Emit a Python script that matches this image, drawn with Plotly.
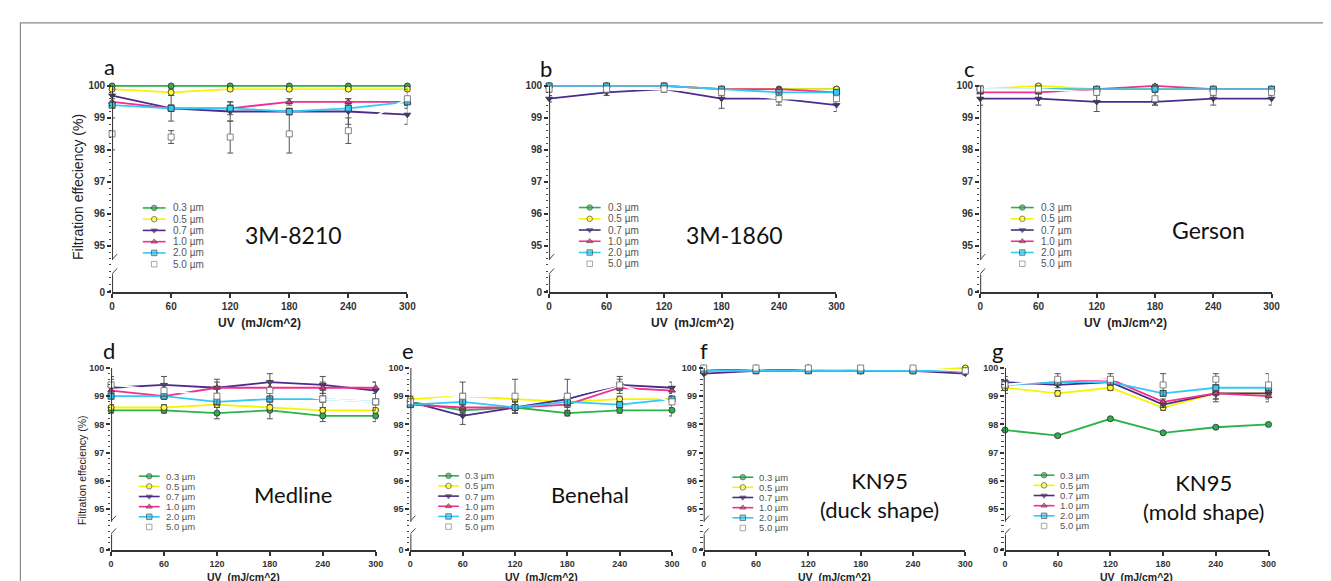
import plotly.graph_objects as go

W, H = 1331, 581

# ---------------- data ----------------
uv = [0, 60, 120, 180, 240, 300]
sizes = ["0.3 µm", "0.5 µm", "0.7 µm", "1.0 µm", "2.0 µm", "5.0 µm"]
panel_letters = ["a", "b", "c", "d", "e", "f", "g"]
mask_names = ["3M-8210", "3M-1860", "Gerson", "Medline", "Benehal",
              "KN95<br>(duck shape)", "KN95<br>(mold shape)"]
y_ticks = [95, 96, 97, 98, 99, 100]

eff_3m8210 = {
    "0.3 µm": [100.0, 100.0, 100.0, 100.0, 100.0, 100.0],
    "0.5 µm": [99.9, 99.8, 99.9, 99.9, 99.9, 99.9],
    "0.7 µm": [99.7, 99.3, 99.2, 99.2, 99.2, 99.1],
    "1.0 µm": [99.5, 99.3, 99.3, 99.5, 99.5, 99.5],
    "2.0 µm": [99.4, 99.3, 99.3, 99.2, 99.3, 99.5],
    "5.0 µm": [98.5, 98.4, 98.4, 98.5, 98.6, 99.6],
}
err_3m8210 = {
    "0.3 µm": [0.0, 0.0, 0.0, 0.0, 0.0, 0.0],
    "0.5 µm": [0.05, 0.1, 0.05, 0.05, 0.05, 0.05],
    "0.7 µm": [0.2, 0.4, 0.3, 0.1, 0.4, 0.3],
    "1.0 µm": [0.1, 0.1, 0.2, 0.1, 0.1, 0.1],
    "2.0 µm": [0.1, 0.1, 0.1, 0.1, 0.1, 0.1],
    "5.0 µm": [0.5, 0.2, 0.5, 0.6, 0.4, 0.3],
}
eff_3m1860 = {
    "0.3 µm": [100.0, 100.0, 100.0, 99.9, 99.9, 99.9],
    "0.5 µm": [100.0, 100.0, 100.0, 99.9, 99.9, 99.9],
    "0.7 µm": [99.6, 99.8, 99.9, 99.6, 99.6, 99.4],
    "1.0 µm": [100.0, 100.0, 100.0, 99.9, 99.9, 99.8],
    "2.0 µm": [100.0, 100.0, 100.0, 99.9, 99.8, 99.8],
    "5.0 µm": [99.9, 99.9, 99.9, 99.8, 99.6, 99.6],
}
err_3m1860 = {
    "0.3 µm": [0.05, 0.05, 0.05, 0.05, 0.05, 0.05],
    "0.5 µm": [0.05, 0.05, 0.05, 0.05, 0.05, 0.05],
    "0.7 µm": [0.1, 0.1, 0.05, 0.3, 0.1, 0.2],
    "1.0 µm": [0.05, 0.05, 0.05, 0.05, 0.05, 0.05],
    "2.0 µm": [0.05, 0.05, 0.05, 0.05, 0.05, 0.05],
    "5.0 µm": [0.1, 0.1, 0.1, 0.1, 0.2, 0.1],
}
eff_gerson = {
    "0.3 µm": [99.9, 99.9, 99.9, 99.9, 99.9, 99.9],
    "0.5 µm": [99.9, 100.0, 99.9, 99.9, 99.9, 99.9],
    "0.7 µm": [99.6, 99.6, 99.5, 99.5, 99.6, 99.6],
    "1.0 µm": [99.8, 99.8, 99.9, 100.0, 99.9, 99.9],
    "2.0 µm": [99.9, 99.9, 99.9, 99.9, 99.9, 99.9],
    "5.0 µm": [99.9, 99.9, 99.8, 99.6, 99.8, 99.8],
}
err_gerson = {
    "0.3 µm": [0.05, 0.05, 0.05, 0.05, 0.05, 0.05],
    "0.5 µm": [0.05, 0.05, 0.05, 0.05, 0.05, 0.05],
    "0.7 µm": [0.2, 0.2, 0.3, 0.1, 0.2, 0.2],
    "1.0 µm": [0.05, 0.05, 0.05, 0.05, 0.05, 0.05],
    "2.0 µm": [0.05, 0.05, 0.05, 0.05, 0.05, 0.05],
    "5.0 µm": [0.1, 0.1, 0.1, 0.2, 0.1, 0.1],
}
eff_medline = {
    "0.3 µm": [98.5, 98.5, 98.4, 98.5, 98.3, 98.3],
    "0.5 µm": [98.6, 98.6, 98.7, 98.6, 98.5, 98.5],
    "0.7 µm": [99.3, 99.4, 99.3, 99.5, 99.4, 99.2],
    "1.0 µm": [99.2, 99.0, 99.3, 99.3, 99.3, 99.3],
    "2.0 µm": [99.0, 99.0, 98.8, 98.9, 98.9, 98.8],
    "5.0 µm": [99.4, 99.2, 99.0, 99.2, 98.9, 98.8],
}
err_medline = {
    "0.3 µm": [0.1, 0.1, 0.2, 0.3, 0.2, 0.2],
    "0.5 µm": [0.1, 0.1, 0.1, 0.1, 0.1, 0.1],
    "0.7 µm": [0.3, 0.3, 0.3, 0.3, 0.3, 0.3],
    "1.0 µm": [0.2, 0.1, 0.2, 0.2, 0.2, 0.2],
    "2.0 µm": [0.1, 0.1, 0.1, 0.1, 0.1, 0.1],
    "5.0 µm": [0.3, 0.2, 0.3, 0.3, 0.3, 0.3],
}
eff_benehal = {
    "0.3 µm": [98.8, 98.5, 98.6, 98.4, 98.5, 98.5],
    "0.5 µm": [98.9, 99.0, 98.9, 98.8, 98.9, 98.9],
    "0.7 µm": [98.8, 98.3, 98.6, 98.9, 99.4, 99.3],
    "1.0 µm": [98.7, 98.6, 98.6, 98.7, 99.3, 99.2],
    "2.0 µm": [98.7, 98.8, 98.6, 98.8, 98.7, 98.9],
    "5.0 µm": [98.8, 99.0, 99.0, 99.0, 99.4, 98.8],
}
err_benehal = {
    "0.3 µm": [0.1, 0.1, 0.2, 0.1, 0.1, 0.2],
    "0.5 µm": [0.1, 0.1, 0.1, 0.1, 0.1, 0.1],
    "0.7 µm": [0.1, 0.3, 0.2, 0.2, 0.2, 0.2],
    "1.0 µm": [0.1, 0.1, 0.1, 0.1, 0.1, 0.1],
    "2.0 µm": [0.1, 0.1, 0.1, 0.1, 0.1, 0.1],
    "5.0 µm": [0.1, 0.5, 0.6, 0.6, 0.3, 0.2],
}
eff_kn95_duck = {
    "0.3 µm": [100.0, 99.9, 100.0, 99.9, 99.9, 99.9],
    "0.5 µm": [99.9, 100.0, 100.0, 99.9, 99.9, 100.0],
    "0.7 µm": [99.8, 99.9, 99.9, 99.9, 99.9, 99.8],
    "1.0 µm": [99.9, 100.0, 99.9, 99.9, 99.9, 99.9],
    "2.0 µm": [99.9, 99.9, 99.9, 99.9, 99.9, 99.9],
    "5.0 µm": [100.0, 100.0, 100.0, 100.0, 100.0, 99.9],
}
err_kn95_duck = {
    "0.3 µm": [0.05, 0.05, 0.05, 0.05, 0.05, 0.05],
    "0.5 µm": [0.05, 0.05, 0.05, 0.05, 0.05, 0.05],
    "0.7 µm": [0.05, 0.05, 0.05, 0.05, 0.05, 0.05],
    "1.0 µm": [0.05, 0.05, 0.05, 0.05, 0.05, 0.05],
    "2.0 µm": [0.05, 0.05, 0.05, 0.05, 0.05, 0.05],
    "5.0 µm": [0.05, 0.05, 0.05, 0.05, 0.05, 0.05],
}
eff_kn95_mold = {
    "0.3 µm": [97.8, 97.6, 98.2, 97.7, 97.9, 98.0],
    "0.5 µm": [99.3, 99.1, 99.3, 98.6, 99.1, 99.1],
    "0.7 µm": [99.5, 99.4, 99.5, 98.7, 99.1, 99.1],
    "1.0 µm": [99.4, 99.5, 99.6, 98.8, 99.1, 99.0],
    "2.0 µm": [99.4, 99.5, 99.5, 99.1, 99.3, 99.3],
    "5.0 µm": [99.4, 99.6, 99.6, 99.4, 99.6, 99.4],
}
err_kn95_mold = {
    "0.3 µm": [0.05, 0.05, 0.05, 0.05, 0.05, 0.05],
    "0.5 µm": [0.1, 0.1, 0.1, 0.1, 0.2, 0.1],
    "0.7 µm": [0.1, 0.1, 0.1, 0.1, 0.3, 0.2],
    "1.0 µm": [0.1, 0.1, 0.1, 0.1, 0.2, 0.2],
    "2.0 µm": [0.1, 0.1, 0.1, 0.1, 0.1, 0.1],
    "5.0 µm": [0.3, 0.2, 0.2, 0.4, 0.2, 0.4],
}

panels_eff = [eff_3m8210, eff_3m1860, eff_gerson, eff_medline, eff_benehal,
              eff_kn95_duck, eff_kn95_mold]
panels_err = [err_3m8210, err_3m1860, err_gerson, err_medline, err_benehal,
              err_kn95_duck, err_kn95_mold]

# ---------------- style ----------------
series_style = {
    "0.3 µm": dict(line="#2bb24c", fill="#2bb24c", symbol="circle"),
    "0.5 µm": dict(line="#f5f500", fill="#ffff33", symbol="circle"),
    "0.7 µm": dict(line="#4b2c8c", fill="#4b2c8c", symbol="triangle-down"),
    "1.0 µm": dict(line="#f0308c", fill="#f0308c", symbol="triangle-up"),
    "2.0 µm": dict(line="#33c8f5", fill="#33c8f5", symbol="square"),
    "5.0 µm": dict(line="#ffffff", fill="#ffffff", symbol="square"),
}

# pixel geometry: (x of UV=0, x of UV=300, row)
geom = [(102, 400, 0), (543, 833, 0), (978, 1272, 0),
        (101, 368, 1), (403, 667, 1), (699, 963, 1), (1003, 1269, 1)]
rows = {0: dict(y100=77, unit=32.4, tick=10, leg=10, legsp=11.4, xt=317, xts=12),
        1: dict(y100=363, unit=28.6, tick=9, leg=9.5, legsp=10.3, xt=575, xts=10.5)}
YMIN, YMAX = 93.55, 100.1
BRK_HI, BRK_LO = 94.55, 94.1

letter_pos = [(99, 57), (540, 59), (967, 59), (99, 345), (401, 345), (699, 345), (995, 345)]
name_pos = [(285, 228, 23), (730, 228, 23), (1208, 223, 23), (285, 491, 22),
            (584, 491, 22), (876, 492, 22), (1203, 494, 22)]
# legend: (line x0, line x1, text x, first row y)
legend_pos = [(133, 156, 161, 200.7), (573, 595, 600, 200.3), (1009, 1032, 1037, 200.3),
              (129, 150, 154, 472.7), (431, 452, 456, 472.3), (728, 749, 753, 473.7),
              (1032, 1053, 1057, 471.7)]


def px(x):
    return x / W


def py(y):
    return 1 - y / H


fig = go.Figure()
layout = dict(width=W, height=H, margin=dict(l=0, r=0, t=0, b=0),
              paper_bgcolor="white", plot_bgcolor="rgba(0,0,0,0)",
              showlegend=False, hovermode=False)
shapes, annotations = [], []

for i, (eff, err) in enumerate(zip(panels_eff, panels_err)):
    n = i + 1
    x0p, x1p, r = geom[i]
    R = rows[r]
    top_px = R["y100"] - (YMAX - 100) * R["unit"]
    bot_px = R["y100"] + (100 - YMIN) * R["unit"]
    xa, ya = f"x{n}", f"y{n}"
    layout[f"xaxis{n}"] = dict(
        domain=[px(x0p), px(x1p)], range=[0, 300], anchor=ya,
        tickmode="array", tickvals=uv, ticks="outside", ticklen=4, tickwidth=1.5,
        tickcolor="#333", showline=True, linecolor="#333", linewidth=2,
        showgrid=False, zeroline=False, fixedrange=True,
        tickfont=dict(family="Liberation Sans", size=R["tick"], color="#333", weight="bold"))
    layout[f"yaxis{n}"] = dict(
        domain=[py(bot_px), py(top_px)], range=[YMIN, YMAX], anchor=xa,
        tickmode="array", tickvals=[YMIN] + y_ticks,
        ticktext=["0"] + [str(v) for v in y_ticks],
        ticks="outside", ticklen=4, tickwidth=1.5, tickcolor="#333",
        showline=False, showgrid=False, zeroline=False, fixedrange=True,
        minor=dict(tickmode="linear", tick0=94.0, dtick=0.2, ticks="outside",
                   ticklen=2.5, tickwidth=1, tickcolor="#444", showgrid=False),
        tickfont=dict(family="Liberation Sans", size=R["tick"], color="#333", weight="bold"))

    for s in sizes:
        st = series_style[s]
        mline = "#777777" if s == "5.0 µm" else "#3a3a3a"
        fig.add_trace(go.Scatter(
            x=uv, y=eff[s], xaxis=xa, yaxis=ya, mode="lines+markers", name=s,
            line=dict(color=st["line"], width=1.8),
            marker=dict(symbol=st["symbol"], size=6, color=st["fill"],
                        line=dict(color=mline, width=0.9)),
            error_y=dict(type="data", array=err[s], visible=True,
                         color="#555555", thickness=1, width=3),
            cliponaxis=False))

    # broken y-axis line
    gap_cover = dict(type="rect", xref=xa, yref=ya, xsizemode="pixel", xanchor=0,
                     x0=-7, x1=5, y0=BRK_LO + 0.02, y1=BRK_HI - 0.02,
                     fillcolor="white", line=dict(width=0), layer="above")
    shapes.append(gap_cover)
    for (ya0, ya1) in [(BRK_HI, 100), (YMIN, BRK_LO)]:
        shapes.append(dict(type="line", xref=xa, yref=ya, x0=0, x1=0, y0=ya0, y1=ya1,
                           line=dict(color="#333", width=2), layer="above"))
    for yb in (BRK_HI, BRK_LO):
        shapes.append(dict(type="line", xref=xa, yref=ya, xsizemode="pixel",
                           ysizemode="pixel", xanchor=0, yanchor=yb,
                           x0=-6, x1=5, y0=-6, y1=6,
                           line=dict(color="#444", width=1), layer="above"))

    # texts
    lx, ly = letter_pos[i]
    annotations.append(dict(x=px(lx), y=py(ly), xref="paper", yref="paper",
                            text=panel_letters[i], showarrow=False,
                            xanchor="center", yanchor="middle",
                            font=dict(family="Lato", size=22, color="#111")))
    nx, ny, ns = name_pos[i]
    annotations.append(dict(x=px(nx), y=py(ny), xref="paper", yref="paper",
                            text=mask_names[i], showarrow=False,
                            xanchor="center", yanchor="middle",
                            font=dict(family="Lato", size=ns, color="#111")))
    annotations.append(dict(x=px((x0p + x1p) / 2), y=py(R["xt"]), xref="paper",
                            yref="paper", text="UV  (mJ/cm^2)", showarrow=False,
                            xanchor="center", yanchor="middle",
                            font=dict(family="Liberation Sans", size=R["xts"],
                                      color="#222", weight="bold")))

    # custom compact legend
    gx0, gx1, gtx, gy0 = legend_pos[i]
    for k, s in enumerate(sizes):
        st = series_style[s]
        yy = gy0 + k * R["legsp"]
        mline = "#777777" if s == "5.0 µm" else "#3a3a3a"
        fig.add_trace(go.Scatter(
            x=[gx0, (gx0 + gx1) / 2, gx1], y=[yy, yy, yy], xaxis="x8", yaxis="y8",
            mode="lines+markers", line=dict(color=st["line"], width=1.6),
            marker=dict(symbol=st["symbol"], size=[0, 5.5, 0], color=st["fill"],
                        line=dict(color=mline, width=0.9)),
            cliponaxis=False))
        annotations.append(dict(x=px(gtx), y=py(yy), xref="paper", yref="paper",
                                text=s, showarrow=False, xanchor="left",
                                yanchor="middle",
                                font=dict(family="Liberation Sans", size=R["leg"],
                                          color="#555")))

# y-axis titles
annotations.append(dict(x=px(67), y=py(179), xref="paper", yref="paper",
                        text="Filtration effeciency (%)", textangle=-90,
                        showarrow=False, xanchor="center", yanchor="middle",
                        font=dict(family="Liberation Sans", size=14, color="#222")))
annotations.append(dict(x=px(71), y=py(466), xref="paper", yref="paper",
                        text="Filtration effeciency (%)", textangle=-90,
                        showarrow=False, xanchor="center", yanchor="middle",
                        font=dict(family="Liberation Sans", size=10.5, color="#222")))

# overlay axis used for the legend samples (pixel space)
layout["xaxis8"] = dict(domain=[0, 1], range=[0, W], anchor="y8", visible=False,
                        fixedrange=True)
layout["yaxis8"] = dict(domain=[0, 1], range=[H, 0], anchor="x8", visible=False,
                        fixedrange=True)

# outer frame
shapes.append(dict(type="rect", xref="paper", yref="paper", x0=px(9.5), x1=1.02,
                   y0=-0.05, y1=py(13), line=dict(color="#8a8a8a", width=1.2),
                   fillcolor="rgba(0,0,0,0)", layer="below"))

layout["shapes"] = shapes
layout["annotations"] = annotations
fig.update_layout(**layout)
fig.write_html("out.html")
